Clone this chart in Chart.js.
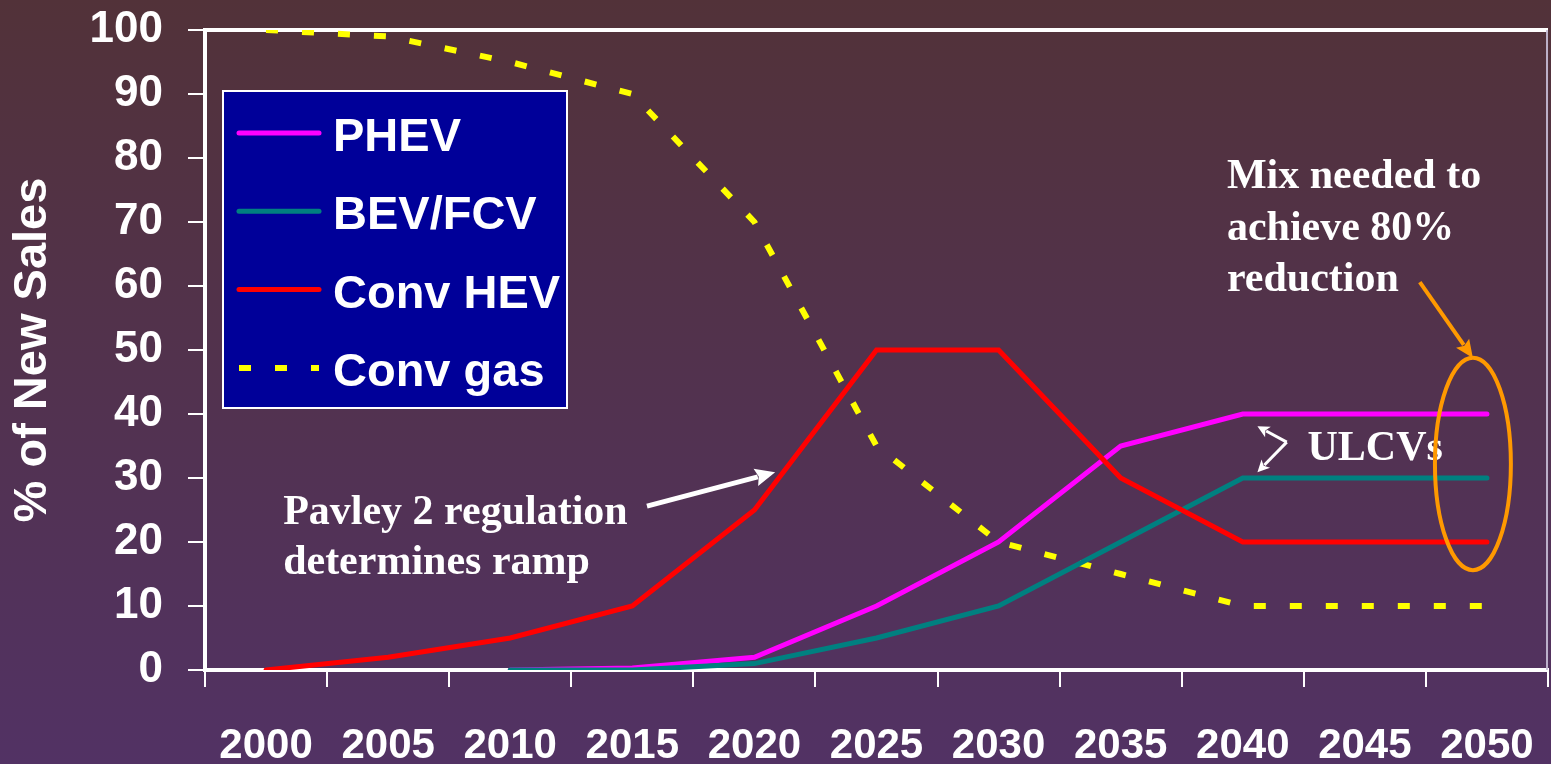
<!DOCTYPE html>
<html><head><meta charset="utf-8">
<script src="https://cdn.jsdelivr.net/npm/chart.js@4.4.1/dist/chart.umd.min.js"></script>
<style>
html,body{margin:0;padding:0;width:1551px;height:764px;overflow:hidden;background:linear-gradient(to bottom,#523239 0%,#523264 100%);}
canvas{display:block}
</style></head><body>
<canvas id="c" width="1551" height="764"></canvas>
<script>
// ---- data ----
const years = ['2000','2005','2010','2015','2020','2025','2030','2035','2040','2045','2050'];
const phev    = [null, null, 0, 0.3, 2, 10, 20, 35, 40, 40, 40];
const bevFcv  = [null, null, 0, 0,   1,  5, 10, 20, 30, 30, 30];
const convHev = [0, 2, 5, 10, 25, 50, 50, 30, 20, 20, 20];
const convGas = [100, 99, 95, 90, 70, 35, 20, 15, 10, 10, 10];
const seriesNames = ['PHEV', 'BEV/FCV', 'Conv HEV', 'Conv gas'];
const yTickValues = [0, 10, 20, 30, 40, 50, 60, 70, 80, 90, 100];
const yTitle = '% of New Sales';
const notePavley = ['Pavley 2 regulation', 'determines ramp'];
const noteMix = ['Mix needed to', 'achieve 80%', 'reduction'];
const noteUlcv = 'ULCVs';

const SANS = '"Liberation Sans", Arial, sans-serif';
const SERIF = '"Liberation Serif", "Times New Roman", serif';

function arrow(ctx, x1, y1, x2, y2, color, w, headLen, headW) {
  const a = Math.atan2(y2 - y1, x2 - x1);
  const c = Math.cos(a), s = Math.sin(a);
  const bx = x2 - headLen * c, by = y2 - headLen * s;
  ctx.save();
  ctx.strokeStyle = color; ctx.fillStyle = color; ctx.lineWidth = w; ctx.lineCap = 'butt';
  ctx.beginPath(); ctx.moveTo(x1, y1); ctx.lineTo(bx + 2 * c, by + 2 * s); ctx.stroke();
  ctx.beginPath(); ctx.moveTo(x2, y2);
  ctx.lineTo(bx + headW * s, by - headW * c);
  ctx.lineTo(bx + 3 * c, by + 3 * s);
  ctx.lineTo(bx - headW * s, by + headW * c);
  ctx.closePath(); ctx.fill();
  ctx.restore();
}

const framePlugin = {
  id: 'frame',
  beforeDatasetsDraw(chart) {
    const {ctx, chartArea: a} = chart;
    ctx.save();
    ctx.strokeStyle = '#ffffff'; ctx.lineWidth = 4;
    ctx.beginPath(); ctx.moveTo(a.left - 2, a.top); ctx.lineTo(a.right, a.top); ctx.stroke();
    ctx.strokeStyle = 'rgba(200,190,215,0.9)'; ctx.lineWidth = 2;
    ctx.beginPath(); ctx.moveTo(a.right - 1, a.top); ctx.lineTo(a.right - 1, a.bottom); ctx.stroke();
    ctx.restore();
  }
};

const overlayPlugin = {
  id: 'overlay',
  afterDraw(chart) {
    const {ctx, chartArea: a} = chart;
    const xs = chart.scales.x, ys = chart.scales.y;
    const px = i => xs.getPixelForValue(i);
    const py = v => ys.getPixelForValue(v);

    // legend box
    const lx = a.left + 18, ly = a.top + 61, lw = 344, lh = 317;
    ctx.save();
    ctx.fillStyle = '#000099';
    ctx.fillRect(lx, ly, lw, lh);
    ctx.strokeStyle = '#ffffff'; ctx.lineWidth = 2;
    ctx.strokeRect(lx, ly, lw, lh);
    const order = [0, 1, 2, 3];
    order.forEach((di, r) => {
      const ds = chart.data.datasets[di];
      const base = ly + 60 + 78.3 * r;
      const ym = base - 18;
      ctx.beginPath();
      ctx.strokeStyle = ds.borderColor;
      ctx.lineWidth = ds.borderWidth;
      ctx.lineCap = ds.borderDash ? 'butt' : 'round';
      ctx.setLineDash(ds.borderDash || []);
      ctx.moveTo(lx + 16, ym); ctx.lineTo(lx + 96, ym); ctx.stroke();
      ctx.setLineDash([]);
      ctx.fillStyle = '#ffffff';
      ctx.font = 'bold 47px ' + SANS;
      ctx.textAlign = 'left'; ctx.textBaseline = 'alphabetic';
      ctx.fillText(ds.label, lx + 110, base);
    });
    ctx.restore();

    // annotations
    ctx.save();
    ctx.fillStyle = '#ffffff';
    ctx.font = 'bold 42px ' + SERIF;
    ctx.textAlign = 'left'; ctx.textBaseline = 'alphabetic';
    ctx.fillText(notePavley[0], px(0.14), py(22.8));
    ctx.fillText(notePavley[1], px(0.14), py(15.0));
    noteMix.forEach((t, k) => ctx.fillText(t, px(7.87), py(75.3 - 8.05 * k)));
    ctx.fillText(noteUlcv, px(8.53), py(32.8));
    ctx.restore();

    arrow(ctx, px(3.12), py(25.6), px(4.17), py(30.9), '#ffffff', 5, 20, 9);
    arrow(ctx, px(9.45), py(60.6), px(9.885), py(48.75), '#FF9900', 4, 18, 8);
    arrow(ctx, px(8.36), py(35.6), px(8.12), py(38.1), '#ffffff', 3, 12, 6);
    arrow(ctx, px(8.36), py(35.6), px(8.12), py(30.9), '#ffffff', 3, 12, 6);

    // ellipse
    const cx = px(9.885), cy = py(32.2);
    const rx = px(9.885 + 0.311) - cx, ry = py(32.2) - py(32.2 + 16.6);
    ctx.save();
    ctx.strokeStyle = '#FF9900'; ctx.lineWidth = 4;
    ctx.beginPath(); ctx.ellipse(cx, cy, rx, ry, 0, 0, Math.PI * 2); ctx.stroke();
    ctx.restore();
  }
};

new Chart(document.getElementById('c').getContext('2d'), {
  type: 'line',
  data: {
    labels: years,
    datasets: [
      {label: seriesNames[0], data: phev, borderColor: '#FF00FF', borderWidth: 5, borderCapStyle: 'round', order: 2},
      {label: seriesNames[1], data: bevFcv, borderColor: '#008080', borderWidth: 5, borderCapStyle: 'round', order: 1},
      {label: seriesNames[2], data: convHev, borderColor: '#FF0000', borderWidth: 5, borderCapStyle: 'round', order: 0},
      {label: seriesNames[3], data: convGas, borderColor: '#FFFF00', borderWidth: 6, borderDash: [12, 24], borderCapStyle: 'butt', order: 3}
    ]
  },
  options: {
    responsive: false, animation: false, devicePixelRatio: 1,
    elements: {point: {radius: 0, hoverRadius: 0}, line: {tension: 0, borderJoinStyle: 'miter', fill: false}},
    layout: {padding: {top: 30, right: 3, left: 0, bottom: 0}},
    plugins: {legend: {display: false}, tooltip: {enabled: false}},
    events: [],
    scales: {
      x: {
        type: 'category', offset: true,
        grid: {offset: true, drawOnChartArea: false, color: '#ffffff', lineWidth: 2, tickLength: 17},
        border: {color: '#ffffff', width: 4},
        ticks: {color: '#ffffff', font: {family: SANS, size: 42, weight: 'bold'}, padding: 34, maxRotation: 0, autoSkip: false},
        afterFit(s) { s.height = 94; s.paddingLeft = 0; s.paddingRight = 0; s.paddingTop = 0; s.paddingBottom = 0; }
      },
      y: {
        min: 0, max: 100,
        afterBuildTicks(s) { s.ticks = yTickValues.map(v => ({value: v})); },
        ticks: {color: '#ffffff', font: {family: SANS, size: 44, weight: 'bold'}, padding: 25},
        grid: {drawOnChartArea: false, color: '#ffffff', lineWidth: 2, tickLength: 17},
        border: {color: '#ffffff', width: 4},
        title: {display: true, text: yTitle, color: '#ffffff', font: {family: SANS, size: 47, weight: 'bold'}, padding: {top: 5, bottom: 0}},
        afterFit(s) { s.width = 205; s.paddingTop = 0; s.paddingBottom = 0; s.paddingLeft = 0; s.paddingRight = 0; }
      }
    }
  },
  plugins: [framePlugin, overlayPlugin]
});
</script>
</body></html>
